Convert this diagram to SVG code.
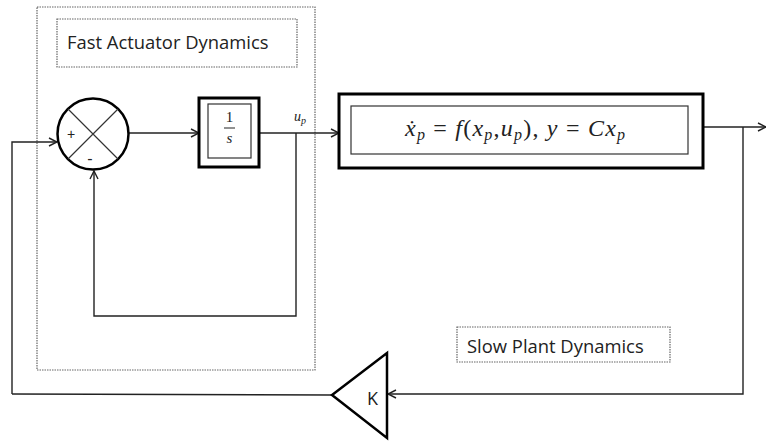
<svg xmlns="http://www.w3.org/2000/svg" width="766" height="445" viewBox="0 0 766 445">
<style>
.dot{fill:none;stroke:#666;stroke-width:1.2;stroke-dasharray:1.5 1}
.thick{fill:#fff;stroke:#000;stroke-width:3}
.thin{fill:none;stroke:#333;stroke-width:1.2}
.wire{fill:none;stroke:#222;stroke-width:1.4}
.lbl{font-family:"Open Sans","DejaVu Sans",sans-serif;font-size:18.4px;fill:#222}
.math{font-family:"Liberation Serif",serif;font-style:italic;fill:#222}
.up{font-style:normal}
</style>
<defs>
<marker id="arr" viewBox="0 0 10 10" refX="9" refY="5" markerWidth="10" markerHeight="10" markerUnits="userSpaceOnUse" orient="auto">
<path d="M1,1 L9,5 L1,9" fill="none" stroke="#222" stroke-width="1.4"/>
</marker>
</defs>
<g id="fast-actuator-region">
<rect class="dot" x="37" y="7" width="278" height="363"/>
</g>
<g id="fast-actuator-label">
<rect class="dot" x="57" y="19" width="240" height="48"/>
<text class="lbl" x="67" y="49">Fast Actuator Dynamics</text>
</g>
<g id="slow-plant-label">
<rect class="dot" x="457" y="327" width="213" height="35"/>
<text class="lbl" x="467" y="353">Slow Plant Dynamics</text>
</g>
<g id="connectors">
<path class="wire" d="M12,394 L12,142 L57,142" marker-end="url(#arr)"/>
<path class="wire" d="M128.5,133 L199,133" marker-end="url(#arr)"/>
<path class="wire" d="M259,133 L339,133" marker-end="url(#arr)"/>
<path class="wire" d="M296,133 L296,316 L94,316 L94,171" marker-end="url(#arr)"/>
<path class="wire" d="M703,127 L766,127" marker-end="url(#arr)"/>
<path class="wire" d="M743,127 L743,394 L388,394" marker-end="url(#arr)"/>
<path class="wire" d="M332,395 L12,394"/>
</g>
<g id="sum">
<circle cx="93" cy="134" r="35.5" fill="#fff" stroke="#000" stroke-width="2.5"/>
<path class="thin" d="M68,109 L118,159 M118,109 L68,159"/>
<text x="71" y="139" font-family="'Liberation Sans',sans-serif" font-size="14" text-anchor="middle" fill="#222">+</text>
<text x="90" y="164" font-family="'Liberation Sans',sans-serif" font-size="16" text-anchor="middle" fill="#222">-</text>
</g>
<g id="integrator">
<rect class="thick" x="199" y="98" width="60" height="69"/>
<rect class="thin" x="208" y="104" width="43" height="54"/>
<text class="math up" x="229.5" y="122" font-size="15" text-anchor="middle">1</text>
<line x1="224" y1="128" x2="235" y2="128" stroke="#222" stroke-width="1"/>
<text class="math" x="229.5" y="143" font-size="15" text-anchor="middle">s</text>
</g>
<g id="up-label">
<text class="math" x="294" y="121" font-size="14">u<tspan dy="3" font-size="10">p</tspan></text>
</g>
<g id="plant">
<rect class="thick" x="339" y="94" width="364" height="74"/>
<rect class="thin" x="351" y="106" width="337" height="48"/>
<text class="math" x="405" y="136" font-size="24" textLength="220" lengthAdjust="spacing">ẋ<tspan dy="4" font-size="16">p</tspan><tspan dy="-4" class="up"> = </tspan>f<tspan class="up">(</tspan>x<tspan dy="4" font-size="16">p</tspan><tspan dy="-4" class="up">,</tspan>u<tspan dy="4" font-size="16">p</tspan><tspan dy="-4" class="up">), </tspan>y<tspan class="up"> = </tspan>Cx<tspan dy="4" font-size="16">p</tspan></text>
</g>
<g id="gain">
<path d="M387,353 L387,438 L332,395 Z" fill="#fff" stroke="#000" stroke-width="2.5" stroke-linejoin="miter"/>
<text x="367" y="405" font-family="'Open Sans','DejaVu Sans',sans-serif" font-size="18" fill="#222">K</text>
</g>
</svg>
